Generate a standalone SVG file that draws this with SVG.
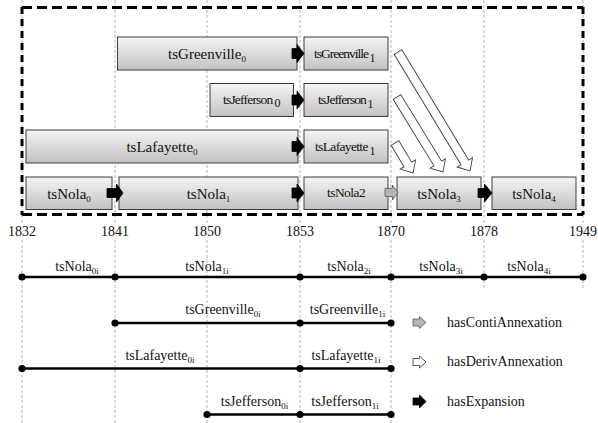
<svg xmlns="http://www.w3.org/2000/svg" width="598" height="423" viewBox="0 0 598 423">
<defs>
<linearGradient id="bg" x1="0" y1="0" x2="0" y2="1">
<stop offset="0" stop-color="#f4f4f4"/>
<stop offset="1" stop-color="#c2c2c2"/>
</linearGradient>
</defs>
<style>
text{font-family:"Liberation Serif","Times New Roman",serif;fill:#111}
.box{fill:url(#bg);stroke:#3c3c3c;stroke-width:1}
.lbl{font-size:15px;text-anchor:middle}
.cnd{font-size:13.5px}
.sub{font-size:12px}
.yr{font-size:14px;text-anchor:middle}
.tl{font-size:14px;text-anchor:middle}
.lg{font-size:14px}
.grid{stroke:#b4b4b4;stroke-width:1;stroke-dasharray:3 2}
.frame{stroke:#000;stroke-width:3;fill:none}
.blk{fill:#000;stroke:#000;stroke-width:0.8}
.gry{fill:#b4b4b4;stroke:#555;stroke-width:0.8}
.hol{fill:#fff;stroke:#444;stroke-width:0.9}
.line{stroke:#000;stroke-width:2.5}
.dot{fill:#000}
</style>
<rect width="598" height="423" fill="#fff"/>
<g id="grid">
<line class="grid" x1="22" y1="0" x2="22" y2="423"/>
<line class="grid" x1="115" y1="0" x2="115" y2="423"/>
<line class="grid" x1="207" y1="0" x2="207" y2="423"/>
<line class="grid" x1="300" y1="0" x2="300" y2="423"/>
<line class="grid" x1="391" y1="0" x2="391" y2="423"/>
<line class="grid" x1="484" y1="0" x2="484" y2="290"/>
<line class="grid" x1="583" y1="0" x2="583" y2="290"/>
</g>
<g id="frame">
<line class="frame" x1="22" y1="7.5" x2="583" y2="7.5" stroke-dasharray="10 5"/>
<line class="frame" x1="22" y1="214.5" x2="583" y2="214.5" stroke-dasharray="10 5"/>
<line class="frame" x1="22" y1="7" x2="22" y2="215" stroke-width="2.5" stroke-dasharray="7 5"/>
<line class="frame" x1="583" y1="7" x2="583" y2="215" stroke-width="2.5" stroke-dasharray="7 5"/>
</g>
<g id="tsGreenville0"><rect class="box" x="117.5" y="37" width="179.5" height="33"/><text class="lbl" x="207" y="58.5">tsGreenville<tspan font-size="9" dy="3">0</tspan></text></g>
<g id="tsGreenville1"><rect class="box" x="304" y="37" width="84" height="33"/><text class="cnd" x="314" y="58" letter-spacing="-1">tsGreenville</text><text class="sub" x="369.5" y="62">1</text></g>
<g id="tsJefferson0"><rect class="box" x="210" y="83.5" width="83.5" height="33"/><text class="cnd" x="223" y="104" letter-spacing="-0.8">tsJefferson</text><text class="sub" x="274.5" y="107">0</text></g>
<g id="tsJefferson1"><rect class="box" x="304" y="83.5" width="84" height="33"/><text class="cnd" x="318" y="104" letter-spacing="-0.95">tsJefferson</text><text class="sub" x="367.5" y="108">1</text></g>
<g id="tsLafayette0"><rect class="box" x="26" y="130" width="272" height="33"/><text class="lbl" x="162" y="151.5">tsLafayette<tspan font-size="9" dy="3">0</tspan></text></g>
<g id="tsLafayette1"><rect class="box" x="304" y="130" width="84" height="33"/><text class="cnd" x="315" y="151" letter-spacing="-0.65">tsLafayette</text><text class="sub" x="369.5" y="155">1</text></g>
<g id="tsNola0"><rect class="box" x="26" y="177" width="86" height="32.5"/><text class="lbl" x="69" y="198.5">tsNola<tspan font-size="9" dy="3">0</tspan></text></g>
<g id="tsNola1"><rect class="box" x="119" y="177" width="179" height="32.5"/><text class="lbl" x="208.5" y="198.5">tsNola<tspan font-size="9" dy="3">1</tspan></text></g>
<g id="tsNola2"><rect class="box" x="304" y="177" width="84" height="32.5"/><text class="cnd" x="327" y="197" letter-spacing="-0.55">tsNola2</text></g>
<g id="tsNola3"><rect class="box" x="397" y="177" width="84" height="32.5"/><text class="lbl" x="439" y="198.5">tsNola<tspan font-size="9" dy="3">3</tspan></text></g>
<g id="tsNola4"><rect class="box" x="492" y="177" width="84" height="32.5"/><text class="lbl" x="534" y="198.5">tsNola<tspan font-size="9" dy="3">4</tspan></text></g>
<g id="connectors">
<path class="blk" d="M292,48.5 H297 V44.5 L304,53.5 L297,62.5 V58.5 H292 Z"/>
<path class="blk" d="M292,95 H297 V91 L304,100 L297,109 V105 H292 Z"/>
<path class="blk" d="M292,141.5 H297 V137.5 L304,146.5 L297,155.5 V151.5 H292 Z"/>
<path class="blk" d="M292,188 H297 V184 L304,193 L297,202 V198 H292 Z"/>
<path class="blk" d="M107,188.5 H116.5 V184 L123,193 L116.5,202 V197.5 H107 Z"/>
<path class="blk" d="M478,188.5 H484.5 V184 L492,193 L484.5,202 V197.5 H478 Z"/>
<path class="gry" d="M385,188.5 H392.5 V185 L398,192.5 L392.5,200 V196.5 H385 Z"/>
<path class="hol" transform="translate(398,52) rotate(58.8)" d="M0,-4.5 H129 V-9 L139,0 L129,9 V4.5 H0 Z"/>
<path class="hol" transform="translate(397,97) rotate(58.5)" d="M0,-4.5 H78 V-9 L88,0 L78,9 V4.5 H0 Z"/>
<path class="hol" transform="translate(395,143) rotate(59)" d="M0,-4.5 H25 V-9 L35,0 L25,9 V4.5 H0 Z"/>
</g>
<g id="years">
<rect x="6" y="224" width="32" height="15" fill="#fff"/><text class="yr" x="22" y="236">1832</text>
<rect x="99" y="224" width="32" height="15" fill="#fff"/><text class="yr" x="115" y="236">1841</text>
<rect x="191" y="224" width="32" height="15" fill="#fff"/><text class="yr" x="207" y="236">1850</text>
<rect x="284" y="224" width="32" height="15" fill="#fff"/><text class="yr" x="300" y="236">1853</text>
<rect x="375" y="224" width="32" height="15" fill="#fff"/><text class="yr" x="391" y="236">1870</text>
<rect x="468" y="224" width="32" height="15" fill="#fff"/><text class="yr" x="484" y="236">1878</text>
<rect x="567" y="224" width="31" height="15" fill="#fff"/><text class="yr" x="583" y="236">1949</text>
</g>
<g id="timeline">
<line class="line" x1="22" y1="277" x2="583" y2="277"/>
<circle class="dot" cx="22" cy="277" r="3.6"/><circle class="dot" cx="115" cy="277" r="3.6"/><circle class="dot" cx="300" cy="277" r="3.6"/><circle class="dot" cx="391" cy="277" r="3.6"/><circle class="dot" cx="484" cy="277" r="3.6"/><circle class="dot" cx="583" cy="277" r="3.6"/>
<text class="tl" x="77" y="271">tsNola<tspan font-size="9" dy="3">0i</tspan></text>
<text class="tl" x="207" y="271">tsNola<tspan font-size="9" dy="3">1i</tspan></text>
<text class="tl" x="349" y="271">tsNola<tspan font-size="9" dy="3">2i</tspan></text>
<text class="tl" x="441" y="271">tsNola<tspan font-size="9" dy="3">3i</tspan></text>
<text class="tl" x="529" y="271">tsNola<tspan font-size="9" dy="3">4i</tspan></text>
<line class="line" x1="115" y1="323" x2="391" y2="323"/>
<circle class="dot" cx="115" cy="323" r="3.6"/><circle class="dot" cx="300" cy="323" r="3.6"/><circle class="dot" cx="391" cy="323" r="3.6"/>
<text class="tl" x="223" y="314">tsGreenville<tspan font-size="9" dy="3">0i</tspan></text>
<text class="tl" x="347.5" y="314">tsGreenville<tspan font-size="9" dy="3">1i</tspan></text>
<line class="line" x1="22" y1="368.5" x2="391" y2="368.5"/>
<circle class="dot" cx="22" cy="368.5" r="3.6"/><circle class="dot" cx="300" cy="368.5" r="3.6"/><circle class="dot" cx="391" cy="368.5" r="3.6"/>
<text class="tl" x="160" y="360">tsLafayette<tspan font-size="9" dy="3">0i</tspan></text>
<text class="tl" x="346" y="360">tsLafayette<tspan font-size="9" dy="3">1i</tspan></text>
<line class="line" x1="207" y1="414.5" x2="391" y2="414.5"/>
<circle class="dot" cx="207" cy="414.5" r="3.6"/><circle class="dot" cx="300" cy="414.5" r="3.6"/><circle class="dot" cx="391" cy="414.5" r="3.6"/>
<text class="tl" x="254.5" y="406">tsJefferson<tspan font-size="9" dy="3">0i</tspan></text>
<text class="tl" x="345" y="406">tsJefferson<tspan font-size="9" dy="3">1i</tspan></text>
</g>
<g id="legend">
<path class="gry" d="M413,319 H419.5 V316.5 L426,322.5 L419.5,328.5 V326 H413 Z"/>
<text class="lg" x="447" y="327">hasContiAnnexation</text>
<path class="hol" d="M413,358.5 H419.5 V356 L426,362 L419.5,368 V365.5 H413 Z"/>
<text class="lg" x="447" y="366">hasDerivAnnexation</text>
<path class="blk" d="M413,398 H419.5 V395 L426,401.5 L419.5,408 V405 H413 Z"/>
<text class="lg" x="447" y="406">hasExpansion</text>
</g>
</svg>
